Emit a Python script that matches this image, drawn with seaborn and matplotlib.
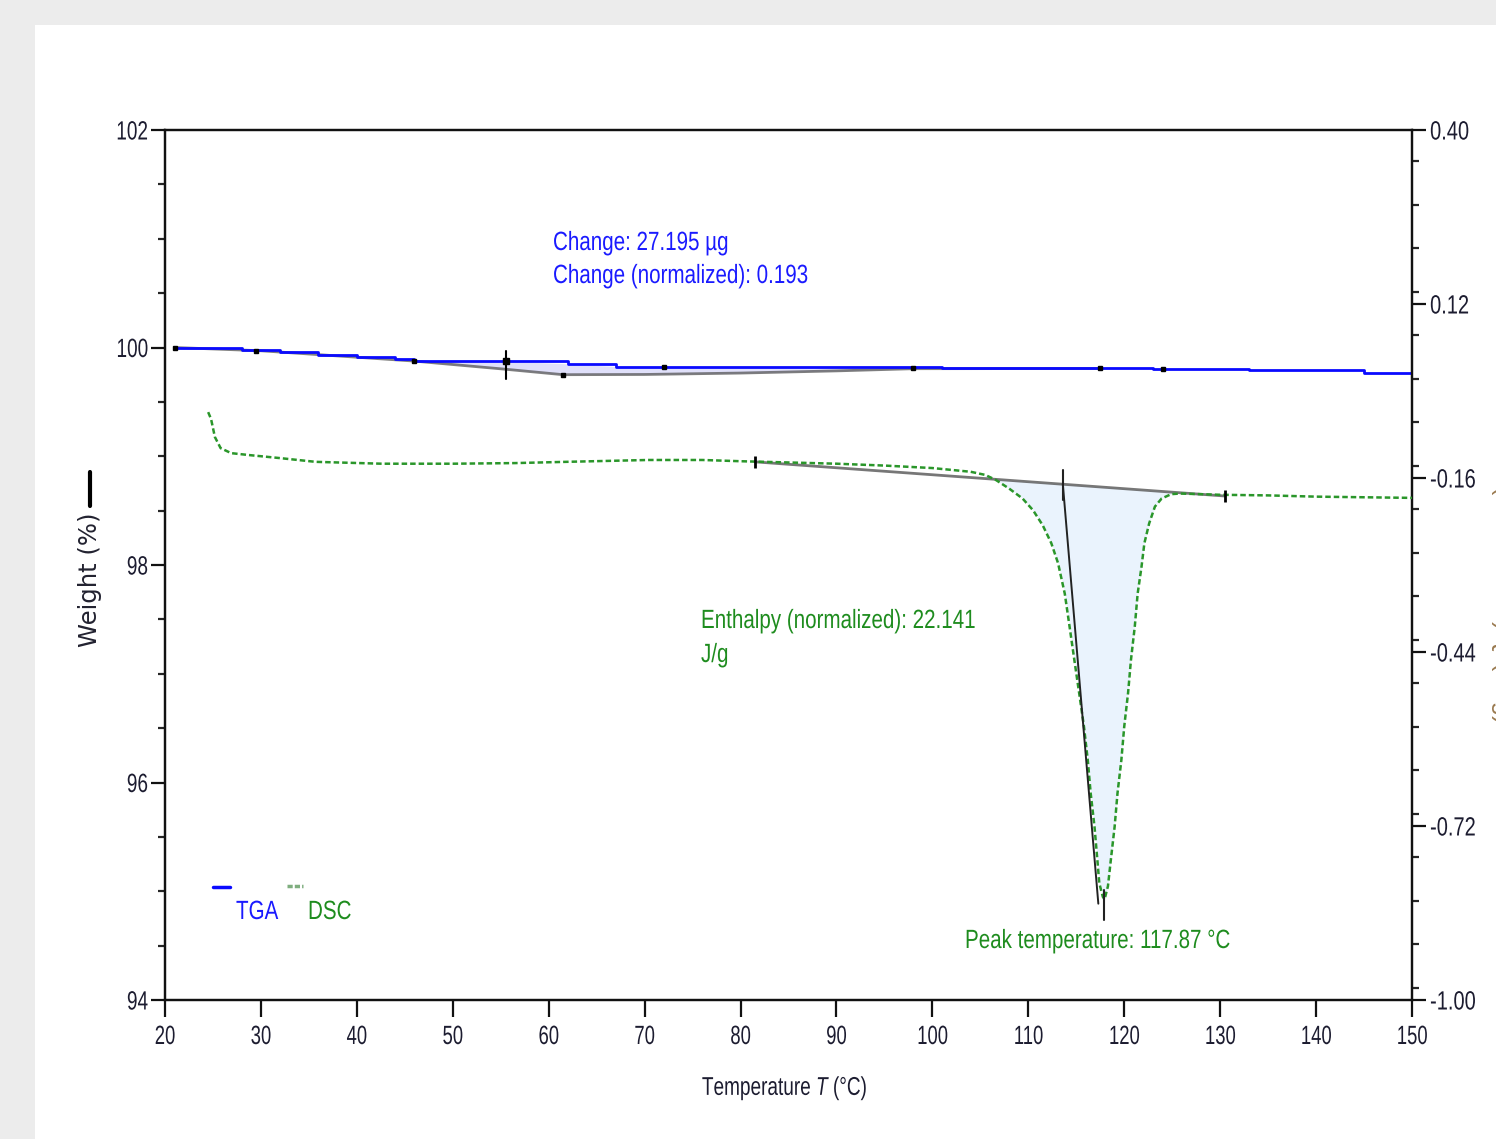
import numpy as np
import pandas as pd
import matplotlib
matplotlib.use("Agg")
import matplotlib.pyplot as plt
import seaborn as sns
from matplotlib.patches import Rectangle
from matplotlib.lines import Line2D
from matplotlib.ticker import MultipleLocator, FormatStrFormatter
from matplotlib.patheffects import AbstractPathEffect
from matplotlib.transforms import Affine2D

# ---------------- data ----------------
tga_temp = [21, 24, 28, 32, 36, 40, 44, 46, 55.5, 62, 67, 80, 92, 101, 112, 123, 133, 145, 150]
tga_weight = [100.00, 99.995, 99.98, 99.96, 99.935, 99.91, 99.895, 99.874, 99.874, 99.85, 99.825,
              99.825, 99.82, 99.807, 99.807, 99.80, 99.79, 99.765, 99.763]

tga_base_temp = [21, 30, 46, 55.5, 61.5, 70, 80, 90, 98, 117.5]
tga_base_weight = [100.0, 99.97, 99.875, 99.80, 99.75, 99.752, 99.765, 99.785, 99.805, 99.807]

tga_marker_temp = [21, 29.5, 46, 61.5, 72, 98, 117.5, 124]
tga_marker_weight = [100.0, 99.97, 99.874, 99.75, 99.825, 99.807, 99.807, 99.80]

tga_cross_temp = 55.5
tga_cross_range = [99.71, 99.97]

dsc_temp = [24.5, 24.8, 25.2, 25.8, 26.9, 28.7, 32, 35.7, 42.6, 50,
            56.5, 61.8, 70.4, 76, 80, 85, 90, 95, 100, 102,
            104, 105.5, 106.6, 108.0, 109.4, 110.5, 111.5, 112.4, 113.1, 113.8,
            114.3, 114.8, 115.3, 115.8, 116.2, 116.5, 116.9, 117.2, 117.4, 117.77,
            117.95, 118.3, 118.6, 119.0, 119.3, 119.7, 120.0, 120.4, 120.7, 121.1,
            121.4, 121.8, 122.1, 122.6, 123.2, 123.9, 124.9, 125.8, 130, 135,
            140, 145, 150]
dsc_heatflow = [-0.054, -0.065, -0.094, -0.112, -0.120, -0.123, -0.128, -0.134, -0.137, -0.137,
                -0.136, -0.134, -0.131, -0.131, -0.133, -0.135, -0.137, -0.140, -0.144, -0.147,
                -0.150, -0.155, -0.163, -0.177, -0.193, -0.212, -0.236, -0.265, -0.297, -0.346,
                -0.399, -0.453, -0.506, -0.560, -0.614, -0.667, -0.721, -0.775, -0.812, -0.834,
                -0.838, -0.817, -0.775, -0.721, -0.667, -0.614, -0.560, -0.506, -0.453, -0.399,
                -0.346, -0.303, -0.265, -0.233, -0.206, -0.193, -0.186, -0.185, -0.187, -0.188,
                -0.190, -0.191, -0.192]

dsc_base_temp = [81.5, 130.5]
dsc_base_heatflow = [-0.134, -0.189]
dsc_cross_temp = 113.6
dsc_cross_range = [-0.147, -0.195]
dsc_peak_temp = 117.87
dsc_peak_range = [-0.823, -0.871]
dsc_slant_temp = [113.6, 117.3]
dsc_slant_heatflow = [-0.170, -0.845]
dsc_fill_range = [105.5, 125.0]

x_ticks = [20, 30, 40, 50, 60, 70, 80, 90, 100, 110, 120, 130, 140, 150]
left_ticks = [94, 96, 98, 100, 102]
right_ticks = [-1.00, -0.72, -0.44, -0.16, 0.12, 0.40]

change_text = ["Change: 27.195 µg", "Change (normalized): 0.193"]
enthalpy_text = ["Enthalpy (normalized): 22.141", "J/g"]
peak_text = "Peak temperature: 117.87 °C"


# narrow-looking text: horizontal squeeze of the rendered glyphs
class Squeeze(AbstractPathEffect):
    def __init__(self, sx, anchor="left"):
        super().__init__((0, 0))
        self._sx = sx
        self._anchor = anchor

    def draw_path(self, renderer, gc, tpath, affine, rgbFace=None):
        ext = tpath.get_extents()
        if self._anchor == "left":
            px = 0.0
        elif self._anchor == "right":
            px = ext.x1
        else:
            px = 0.5 * (ext.x0 + ext.x1)
        x0, y0 = affine.transform((px, 0.0))
        new = affine + Affine2D().translate(-x0, -y0).scale(self._sx, 1.0).translate(x0, y0)
        renderer.draw_path(gc, tpath, new, rgbFace)


# ---------------- style ----------------
sns.set_style("ticks")
plt.rcParams["font.family"] = ["Liberation Sans", "DejaVu Sans"]
plt.rcParams["axes.unicode_minus"] = False
plt.rcParams["mathtext.fontset"] = "custom"
plt.rcParams["mathtext.it"] = "Liberation Sans:italic"
plt.rcParams["mathtext.rm"] = "Liberation Sans"

W, H = 1496, 1139
fig = plt.figure(figsize=(W / 100, H / 100), dpi=100, facecolor="#ececec")
fig.patches.append(Rectangle((35 / W, 0), 1 - 35 / W, 1 - 25 / H, transform=fig.transFigure,
                             facecolor="white", edgecolor="none", zorder=-10))


def fx(x):
    return x / W


def fy(y):
    return 1 - y / H


ax = fig.add_axes([fx(165), fy(1000), fx(1412) - fx(165), fy(130) - fy(1000)])
ax.set_facecolor("none")
ax2 = ax.twinx()

BLUE = "#0a0aff"
GREEN = "#2a962a"
TEXTGREEN = "#1e8c1e"
TEXTBLUE = "#1a1aff"
TICKC = "#1c1c30"

# TGA fill between curve and baseline
tt = np.linspace(46, 98, 200)
ax.fill_between(tt, np.interp(tt, tga_temp, tga_weight), np.interp(tt, tga_base_temp, tga_base_weight),
                color="#d4d4f8", alpha=0.7, lw=0, zorder=1)

tga_df = pd.DataFrame({"T": tga_temp, "w": tga_weight})
sns.lineplot(data=tga_df, x="T", y="w", ax=ax, color=BLUE, lw=2.0, drawstyle="steps-post",
             zorder=3, estimator=None, sort=False)
base_df = pd.DataFrame({"T": tga_base_temp, "w": tga_base_weight})
sns.lineplot(data=base_df, x="T", y="w", ax=ax, color="#555555", lw=2.0, alpha=0.75, zorder=2,
             estimator=None, sort=False)
ax.plot(tga_marker_temp, tga_marker_weight, ls="none", marker="s", ms=3.5, color="black", zorder=4)
ax.plot([tga_cross_temp, tga_cross_temp], tga_cross_range, color="black", lw=1.5, zorder=4)
ax.plot([tga_cross_temp], [np.interp(tga_cross_temp, tga_temp, tga_weight)], marker="s", ms=4,
        color="black", zorder=4)

# DSC
dt = np.linspace(dsc_fill_range[0], dsc_fill_range[1], 400)
ax2.fill_between(dt, np.interp(dt, dsc_temp, dsc_heatflow), np.interp(dt, dsc_base_temp, dsc_base_heatflow),
                 color="#eaf3fd", lw=0, zorder=1)
base2 = pd.DataFrame({"T": dsc_base_temp, "q": dsc_base_heatflow})
sns.lineplot(data=base2, x="T", y="q", ax=ax2, color="#555555", lw=2.0, alpha=0.8, zorder=2,
             estimator=None, sort=False)
dsc_df = pd.DataFrame({"T": dsc_temp, "q": dsc_heatflow})
sns.lineplot(data=dsc_df, x="T", y="q", ax=ax2, color=GREEN, lw=1.8, zorder=3,
             estimator=None, sort=False, linestyle=(0, (2.2, 1.2)))
ax2.plot(dsc_slant_temp, dsc_slant_heatflow, color="#222222", lw=1.4, zorder=4)
ax2.plot([dsc_cross_temp, dsc_cross_temp], dsc_cross_range, color="#222222", lw=1.5, zorder=4)
ax2.plot([dsc_peak_temp, dsc_peak_temp], dsc_peak_range, color="#222222", lw=1.5, zorder=4)
ax2.plot(dsc_base_temp, dsc_base_heatflow, ls="none", marker="|", ms=8, mew=2, color="black", zorder=4)

# axes limits / ticks
ax.set_xlim(20, 150)
ax.set_ylim(94, 102)
ax2.set_ylim(-1.0, 0.40)
ax.set_xticks(x_ticks)
ax.set_yticks(left_ticks)
ax.yaxis.set_minor_locator(MultipleLocator(0.5))
ax2.set_yticks(right_ticks)
ax2.yaxis.set_minor_locator(MultipleLocator(0.07))
ax2.yaxis.set_major_formatter(FormatStrFormatter("%.2f"))
ax.set_xlabel("")
ax.set_ylabel("")
ax2.set_ylabel("")

for a in (ax, ax2):
    for s in a.spines.values():
        s.set_visible(True)
        s.set_linewidth(1.6)
        s.set_color("#111111")
TICKFS = 19
ax.tick_params(axis="x", which="major", direction="out", length=12, width=1.6, pad=6,
               labelsize=TICKFS, colors="#111111", labelcolor=TICKC, top=False)
ax.tick_params(axis="y", which="major", direction="out", length=10, width=1.6, pad=2,
               labelsize=TICKFS, colors="#111111", labelcolor=TICKC, right=False)
ax.tick_params(axis="y", which="minor", direction="out", length=5, width=1.6, right=False)
ax2.tick_params(axis="y", which="major", direction="out", length=10, width=1.6, pad=3,
                labelsize=TICKFS, colors="#111111", labelcolor=TICKC)
ax2.tick_params(axis="y", which="minor", direction="out", length=5, width=1.6)

for lab in ax.get_xticklabels():
    lab.set_path_effects([Squeeze(0.70, "center")])
for lab in ax.get_yticklabels():
    lab.set_path_effects([Squeeze(0.72, "right")])
for lab in ax2.get_yticklabels():
    lab.set_path_effects([Squeeze(0.76, "left")])

# axis labels
fig.text(fx(785), fy(1088), "Temperature $\\mathit{T}$ (°C)", ha="center", va="center",
         fontsize=18.5, color=TICKC, path_effects=[Squeeze(0.74, "center")])
fig.text(fx(90), fy(580), "Weight (%)", rotation=90, ha="center", va="center",
         fontsize=17.5, color="#222230", family=["DejaVu Sans"])
fig.lines.append(Line2D([fx(90), fx(90)], [fy(472), fy(506)], transform=fig.transFigure,
                        color="black", lw=3))
fig.text(fx(1489), fy(545), "Heat Flow (Normalized) $\\mathit{Q}$ (W/g)", rotation=270,
         ha="left", va="center", fontsize=18, color="#9a7a50")

# annotations
ANNFS = 19
SQ = 0.78
fig.text(fx(553), fy(243), change_text[0], ha="left", va="center", fontsize=ANNFS, color=TEXTBLUE,
         path_effects=[Squeeze(SQ, "left")])
fig.text(fx(553), fy(276), change_text[1], ha="left", va="center", fontsize=ANNFS, color=TEXTBLUE,
         path_effects=[Squeeze(SQ, "left")])
fig.text(fx(701), fy(621), enthalpy_text[0], ha="left", va="center", fontsize=ANNFS, color=TEXTGREEN,
         path_effects=[Squeeze(SQ, "left")])
fig.text(fx(701), fy(655), enthalpy_text[1], ha="left", va="center", fontsize=ANNFS, color=TEXTGREEN,
         path_effects=[Squeeze(SQ, "left")])
fig.text(fx(965), fy(941), peak_text, ha="left", va="center", fontsize=ANNFS, color=TEXTGREEN,
         path_effects=[Squeeze(SQ, "left")])

# legend glyphs
fig.lines.append(Line2D([fx(213), fx(230)], [fy(887), fy(887)], transform=fig.transFigure,
                        color=BLUE, lw=2.5))
fig.lines.append(Line2D([fx(287), fx(303)], [fy(886), fy(886)], transform=fig.transFigure,
                        color="#7fae7f", lw=2.5, linestyle=(0, (1.5, 0.6))))
fig.text(fx(236), fy(912), "TGA", ha="left", va="center", fontsize=ANNFS, color=TEXTBLUE,
         path_effects=[Squeeze(SQ, "left")])
fig.text(fx(308), fy(912), "DSC", ha="left", va="center", fontsize=ANNFS, color=TEXTGREEN,
         path_effects=[Squeeze(SQ, "left")])

fig.savefig("out.png", dpi=100, facecolor=fig.get_facecolor())
